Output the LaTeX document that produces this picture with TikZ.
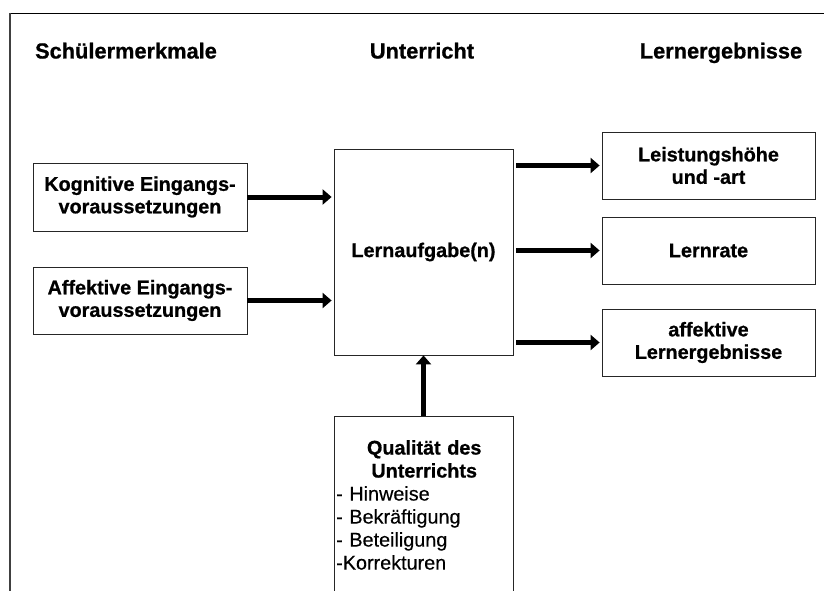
\documentclass[tikz,border=0pt]{standalone}
\usepackage{fontspec}
\setmainfont{Liberation Sans}[FakeBold=0.3,BoldFeatures={FakeBold=0.8}]
\usetikzlibrary{arrows.meta}
\begin{document}
\begin{tikzpicture}[x=1pt,y=-1pt,
  box/.style={draw=black!85, line width=0.8pt, inner sep=0pt, align=center,
    font=\fontsize{19.8}{22.5}\selectfont\bfseries},
  header/.style={font=\fontsize{21.8}{24}\selectfont\bfseries, anchor=base, inner sep=0pt},
  bigarrow/.style={line width=5pt, -{Triangle[length=9pt,width=15pt]}}]
\useasboundingbox (0,0) rectangle (824,591);
\clip (0,0) rectangle (824,591);
% frame
\draw[line width=1.3pt] (9.5,13.5) -- (824,13.5);
\draw[line width=1.6pt, black!75] (10,13) -- (10,591);
% headers
\node[header] (h1) at (126,58.5) {Schülermerkmale};
\node[header] (h2) at (422,58.5) {Unterricht};
\node[header] (h3) at (721,58.5) {Lernergebnisse};
% left boxes
\node[box, minimum width=214pt, minimum height=68pt] (kog) at (140,197) {Kognitive Eingangs-\\voraussetzungen};
\node[box, minimum width=214pt, minimum height=67pt] (aff) at (140,300.5) {Affektive Eingangs-\\voraussetzungen};
% center box
\node[box, minimum width=179pt, minimum height=206pt] (lern) at (423.5,252) {Lernaufgabe(n)};
% right boxes
\node[box, minimum width=213pt, minimum height=67pt] (ra) at (708.5,165.5) {Leistungshöhe\\und -art};
\node[box, minimum width=213pt, minimum height=67pt] (rb) at (708.5,250.5) {Lernrate};
\node[box, minimum width=213pt, minimum height=67pt] (rc) at (708.5,342.5) {affektive\\Lernergebnisse};
% bottom box
\node[box, minimum width=179pt, minimum height=200pt, anchor=north] (qual) at (423.5,416) {};
\node[anchor=north west, text width=176pt, inner sep=0pt, align=left,
  font=\fontsize{19.8}{23}\selectfont] (qualtext) at (336,440)
  {{\centering\bfseries Qualität des\\Unterrichts\par}\raggedright
   - Hinweise\\- Bekräftigung\\- Beteiligung\\-Korrekturen};
% arrows
\draw[bigarrow, shorten >=2pt] (kog.east) -- (kog.east -| lern.west);
\draw[bigarrow, shorten >=2pt] (aff.east) -- (aff.east -| lern.west);
\draw[bigarrow, shorten >=2pt, shorten <=3pt] (lern.east |- ra.west) -- (ra.west);
\draw[bigarrow, shorten >=2pt, shorten <=3pt] (lern.east |- rb.west) -- (rb.west);
\draw[bigarrow, shorten >=2pt, shorten <=3pt] (lern.east |- rc.west) -- (rc.west);
\draw[bigarrow] (qual.north) -- (lern.south);
\end{tikzpicture}
\end{document}
